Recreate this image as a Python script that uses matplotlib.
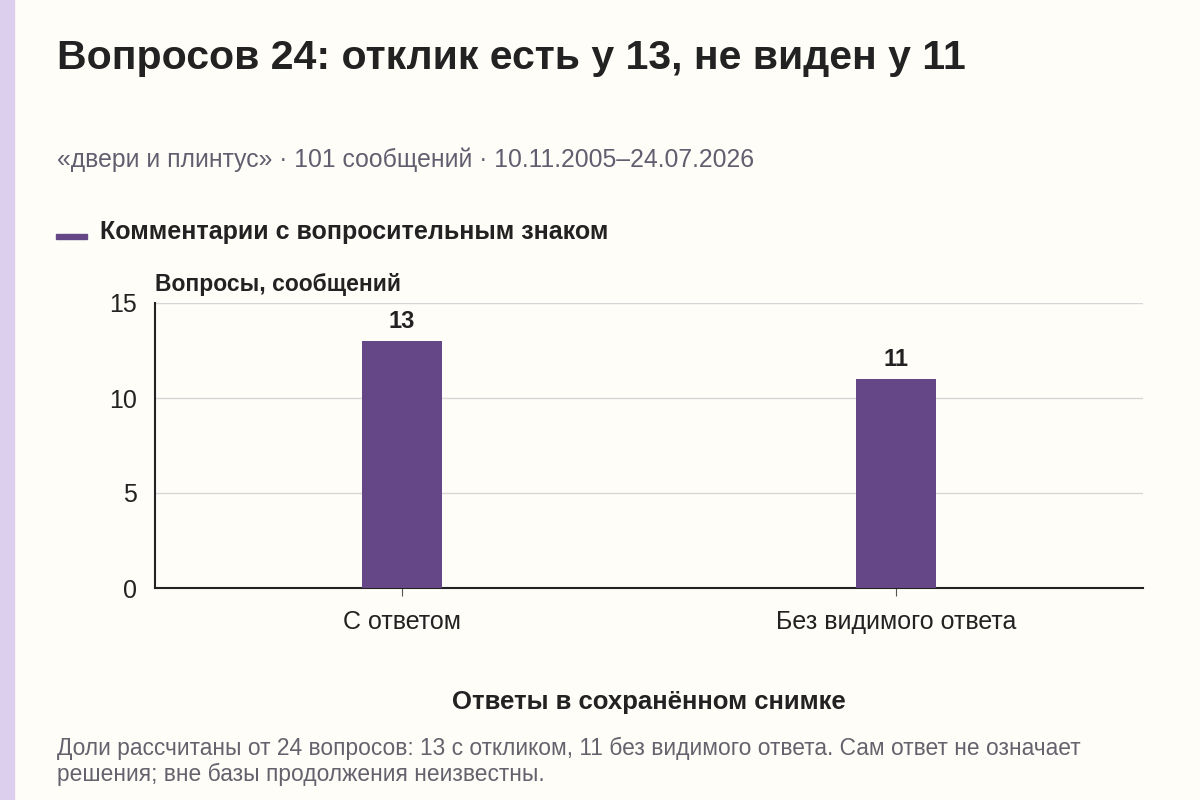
import matplotlib.pyplot as plt
from matplotlib.patches import Rectangle

plt.rcParams['font.family'] = ['Liberation Sans', 'DejaVu Sans']

# Data
categories = ['С ответом', 'Без видимого ответа']
counts = [13, 11]
y_ticks = [0, 5, 10, 15]

bg = '#fffdf7'
purple = '#654787'
dark = '#222222'
muted = '#625e70'
foot = '#64626c'

fig = plt.figure(figsize=(12, 8), dpi=100, facecolor=bg)

# lavender strip on the left
fig.patches.append(Rectangle((0, 0), 14 / 1200, 1, transform=fig.transFigure,
                             color='#dccfee', zorder=0))

ax = fig.add_axes([155 / 1200, 1 - 588 / 800, (1143 - 155) / 1200, (588 - 303) / 800])
ax.set_facecolor(bg)

x = range(len(categories))
ax.bar(x, counts, width=0.16, color=purple, zorder=3)
for xi, v in zip(x, counts):
    ax.text(xi, v + 0.4, str(v), ha='center', va='bottom',
            fontsize=17, fontweight='bold', color=dark)

ax.set_xlim(-0.5, 1.5)
ax.set_ylim(0, 15)
ax.set_yticks(y_ticks)
ax.set_xticks(list(x))
ax.set_xticklabels(categories, fontsize=18, color=dark)
ax.tick_params(axis='y', length=0, labelsize=18, labelcolor=dark, pad=13)
ax.tick_params(axis='x', length=6, color='#555555', pad=10)
ax.grid(axis='y', color='#d6d6d6', linewidth=1, zorder=0)
for s in ['top', 'right']:
    ax.spines[s].set_visible(False)
ax.spines['left'].set_color(dark)
ax.spines['bottom'].set_color(dark)
ax.spines['left'].set_linewidth(1.5)
ax.spines['bottom'].set_linewidth(1.5)

ax.set_xlabel('Ответы в сохранённом снимке', fontsize=18.5, fontweight='bold',
              color=dark, labelpad=40)

# y-axis title above the axis
fig.text(155 / 1200, 1 - 285 / 800, 'Вопросы, сообщений', fontsize=16.5,
         fontweight='bold', color=dark, va='center', ha='left')

# title and subtitle
fig.text(57 / 1200, 1 - 58 / 800, 'Вопросов 24: отклик есть у 13, не виден у 11',
         fontsize=29.5, fontweight='bold', color=dark, va='center', ha='left')
fig.text(57 / 1200, 1 - 160 / 800,
         '«двери и плинтус» · 101 сообщений · 10.11.2005–24.07.2026',
         fontsize=17.8, color=muted, va='center', ha='left')

# legend
fig.patches.append(Rectangle((56 / 1200, 1 - 239 / 800), 31 / 1200, 5 / 800,
                             transform=fig.transFigure, color=purple))
fig.text(100 / 1200, 1 - 232 / 800, 'Комментарии с вопросительным знаком',
         fontsize=18, fontweight='bold', color=dark, va='center', ha='left')

# footnote
fig.text(57 / 1200, 1 - 748 / 800,
         'Доли рассчитаны от 24 вопросов: 13 с откликом, 11 без видимого ответа. '
         'Сам ответ не означает',
         fontsize=16.4, color=foot, va='center', ha='left')
fig.text(57 / 1200, 1 - 774 / 800,
         'решения; вне базы продолжения неизвестны.',
         fontsize=16.4, color=foot, va='center', ha='left')

fig.savefig('out.png', dpi=100, facecolor=bg)
